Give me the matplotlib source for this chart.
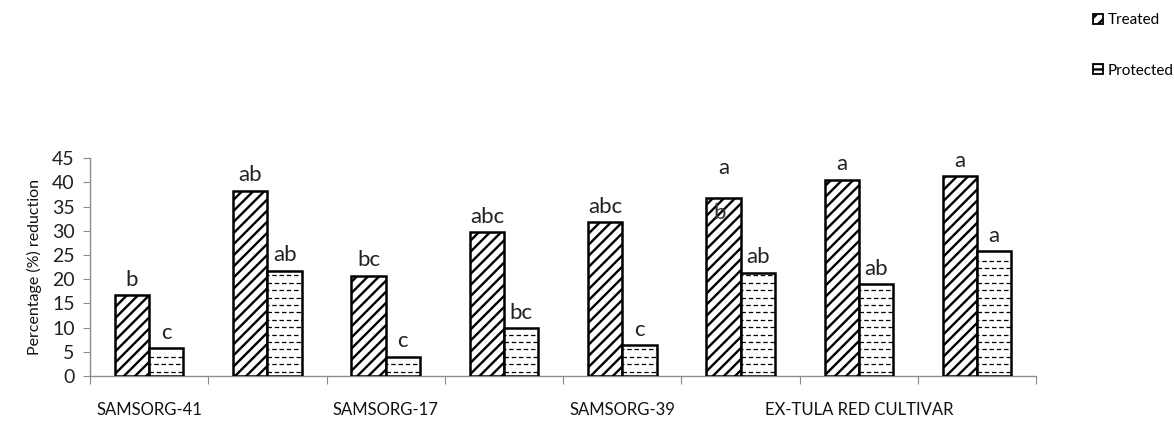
import matplotlib
matplotlib.use("Agg")
import matplotlib.pyplot as plt
from matplotlib.patches import Patch
import numpy as np

plt.rcParams['font.family'] = ['Lato', 'DejaVu Sans']
plt.rcParams['hatch.linewidth'] = 1.7

categories = ["SAMSORG-41", "", "SAMSORG-17", "", "SAMSORG-39", "", "EX-TULA RED CULTIVAR", ""]
treated = [16.7, 38.3, 20.7, 29.7, 31.8, 36.8, 40.5, 41.3]
protected = [5.7, 21.7, 4.0, 9.9, 6.4, 21.3, 19.0, 25.8]
treated_letters = ["b", "ab", "bc", "abc", "abc", "a", "a", "a"]
protected_letters = ["c", "ab", "c", "bc", "c", "ab", "ab", "a"]
extra_letter_group = 5
extra_letter = "b"
yticks = [0, 5, 10, 15, 20, 25, 30, 35, 40, 45]

fig = plt.figure(figsize=(11.74, 4.23), dpi=100)
ax = fig.add_axes([0.0767, 0.111, 0.806, 0.515])

x = np.arange(len(categories))
w = 0.29
b1 = ax.bar(x - w/2, treated, w, facecolor='white', edgecolor='black',
            linewidth=1.8, hatch='///', label='Treated', zorder=3)
b2 = ax.bar(x + w/2, protected, w, facecolor='white', edgecolor='black',
            linewidth=1.8, label='Protected', zorder=3)

ax.set_xlim(-0.5, len(categories) - 0.5)
ax.set_ylim(0, 45)
ax.set_yticks(yticks)

fig.canvas.draw()
# dashed horizontal fill for protected bars
px_per_unit = ax.transData.transform((0, 1))[1] - ax.transData.transform((0, 0))[1]
step = 7.4 / px_per_unit
for p in b2.patches:
    x0, y0 = p.get_x(), p.get_y()
    pw, ph = p.get_width(), p.get_height()
    yy = y0 + step * 0.6
    i = 0
    while yy < y0 + ph - step * 0.3:
        ln, = ax.plot([x0, x0 + pw], [yy, yy], color='black', lw=0.9,
                      linestyle=(2.0 if i % 2 else 0.0, (3.6, 2.2)), zorder=3.5)
        ln.set_clip_path(p)
        yy += step
        i += 1

lab_fs = 16
for k, (rect, lab) in enumerate(zip(b1.patches, treated_letters)):
    off = 14 if k == extra_letter_group else 4
    ax.annotate(lab, (rect.get_x() + rect.get_width()/2, rect.get_height()),
                xytext=(0, off), textcoords='offset points', ha='center', va='bottom',
                fontsize=lab_fs, color='#222222')
for rect, lab in zip(b2.patches, protected_letters):
    ax.annotate(lab, (rect.get_x() + rect.get_width()/2, rect.get_height()),
                xytext=(0, 4), textcoords='offset points', ha='center', va='bottom',
                fontsize=lab_fs, color='#222222')
r = b1.patches[extra_letter_group]
ax.annotate(extra_letter, (r.get_x() + r.get_width()/2, r.get_height()),
            xytext=(-3, -11), textcoords='offset points', ha='center', va='center',
            fontsize=lab_fs, color='#333333', zorder=5)

# axes styling
for s in ['top', 'right']:
    ax.spines[s].set_visible(False)
for s in ['left', 'bottom']:
    ax.spines[s].set_color('#8c8c8c')
    ax.spines[s].set_linewidth(1.0)

ax.set_xticks(np.arange(-0.5, len(categories)), minor=False)
ax.set_xticklabels([])
ax.set_xticks(x, minor=True)
ax.set_xticklabels(categories, minor=True, fontsize=12, color='#111111')
ax.tick_params(axis='x', which='major', length=6, color='#8c8c8c', direction='out')
ax.tick_params(axis='x', which='minor', length=0, pad=19)
ax.tick_params(axis='y', length=5, color='#8c8c8c', direction='out', labelsize=14,
               labelcolor='#222222', pad=6)

ax.set_ylabel('Percentage (%) reduction', fontsize=11.5, color='#111111', labelpad=7)

handles = [Patch(facecolor='white', edgecolor='black', hatch='///', linewidth=1.3),
           Patch(facecolor='white', edgecolor='black', hatch='---', linewidth=1.3)]
fig.legend(handles, ['Treated', 'Protected'], loc='upper left',
           bbox_to_anchor=(1093/1174, 1 - 13/423), frameon=False,
           fontsize=11, handlelength=0.65, handleheight=0.65, handletextpad=0.3,
           labelspacing=2.4, borderpad=0, borderaxespad=0)

fig.savefig('out.png', dpi=100)
